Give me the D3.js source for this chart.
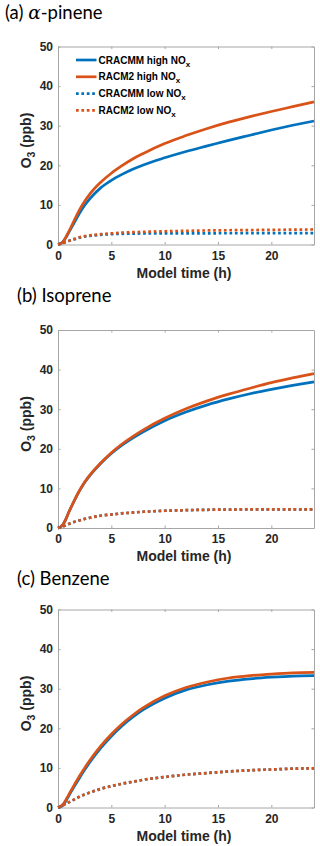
<!DOCTYPE html>
<html>
<head>
<meta charset="utf-8">
<script src="https://cdn.jsdelivr.net/npm/d3@7"></script>
<style>
  body { margin: 0; background: #fff; }
</style>
</head>
<body>
<div id="chart"></div>
<script>
// model time (h) sampled for all curves
const timeH = [0, 0.25, 0.5, 0.75, 1, 1.5, 2, 2.5, 3, 4, 5, 6, 7, 8, 10, 12, 14, 16, 18, 20, 22, 24];

// (a) alpha-pinene
const pinCracmmHigh = [0, 0.2, 0.8, 1.8, 3.0, 5.4, 7.8, 9.9, 11.6, 14.3, 16.2, 17.7, 19.0, 20.1, 21.9, 23.5, 24.9, 26.3, 27.6, 28.9, 30.1, 31.2];
const pinRacm2High  = [0, 0.2, 0.8, 1.9, 3.2, 6.0, 8.7, 10.9, 12.8, 15.7, 18.0, 19.9, 21.6, 23.0, 25.5, 27.5, 29.3, 30.9, 32.3, 33.6, 34.8, 36.0];
const pinCracmmLow  = [0, 0.2, 0.4, 0.65, 0.9, 1.3, 1.7, 2.0, 2.2, 2.45, 2.6, 2.7, 2.75, 2.78, 2.8, 2.82, 2.83, 2.84, 2.85, 2.85, 2.85, 2.85];
const pinRacm2Low   = [0, 0.2, 0.4, 0.65, 0.9, 1.35, 1.8, 2.1, 2.3, 2.6, 2.8, 3.0, 3.1, 3.2, 3.35, 3.45, 3.55, 3.6, 3.65, 3.7, 3.75, 3.8];

// (b) isoprene
const isoCracmmHigh = [0, 0.3, 1.0, 2.3, 3.9, 6.7, 9.3, 11.5, 13.3, 16.3, 18.8, 20.9, 22.7, 24.3, 27.1, 29.3, 31.1, 32.6, 33.9, 35.0, 36.0, 36.9];
const isoRacm2High  = [0, 0.3, 1.0, 2.3, 3.9, 6.8, 9.4, 11.6, 13.4, 16.4, 19.0, 21.2, 23.1, 24.8, 27.7, 30.1, 32.1, 33.8, 35.3, 36.7, 37.9, 39.0];
const isoCracmmLow  = [0, 0.2, 0.4, 0.7, 1.0, 1.5, 1.9, 2.3, 2.6, 3.1, 3.4, 3.7, 3.9, 4.1, 4.35, 4.5, 4.6, 4.65, 4.7, 4.7, 4.7, 4.7];
const isoRacm2Low   = [0, 0.2, 0.4, 0.7, 1.0, 1.5, 1.9, 2.3, 2.6, 3.1, 3.4, 3.7, 3.9, 4.1, 4.35, 4.5, 4.6, 4.65, 4.7, 4.7, 4.7, 4.7];

// (c) benzene
const benCracmmHigh = [0, 0.2, 0.7, 1.7, 2.9, 5.2, 7.4, 9.5, 11.5, 15.0, 18.0, 20.6, 22.8, 24.7, 27.6, 29.7, 31.0, 31.9, 32.5, 32.9, 33.2, 33.3];
const benRacm2High  = [0, 0.3, 0.9, 2.0, 3.2, 5.6, 7.9, 10.0, 12.0, 15.5, 18.5, 21.1, 23.3, 25.2, 28.2, 30.3, 31.7, 32.7, 33.3, 33.7, 34.0, 34.1];
const benCracmmLow  = [0, 0.3, 0.6, 1.0, 1.3, 2.0, 2.7, 3.3, 3.8, 4.7, 5.4, 6.0, 6.5, 7.0, 7.7, 8.3, 8.7, 9.1, 9.4, 9.6, 9.8, 9.9];
const benRacm2Low   = [0, 0.3, 0.6, 1.0, 1.3, 2.0, 2.7, 3.3, 3.8, 4.7, 5.4, 6.0, 6.5, 7.0, 7.7, 8.3, 8.7, 9.1, 9.4, 9.6, 9.8, 9.9];

const xTicks = [0, 5, 10, 15, 20];
const yTicks = [0, 10, 20, 30, 40, 50];
const legendLabels = ["CRACMM high NO", "RACM2 high NO", "CRACMM low NO", "RACM2 low NO"];

const width = 320, height = 846;
const left = 58, right = 314, plotH = 198;
const blue = "#0072BD", orange = "#D95319";
const axisGray = "#a6a6a6", textDark = "#262626";
const sans = "'Liberation Sans', Arial, sans-serif";

const styles = [
  { color: blue, dash: null },
  { color: orange, dash: null },
  { color: blue, dash: "2.7,2.7" },
  { color: orange, dash: "2.7,2.7" }
];

const panels = [
  { label: "(a) ", name: "-pinene", alpha: true, tx: 5, ty: 19, top: 46.5,
    series: [pinCracmmHigh, pinRacm2High, pinCracmmLow, pinRacm2Low], legend: true },
  { label: "(b) ", name: "Isoprene", tx: 17, ty: 302, top: 330,
    series: [isoCracmmHigh, isoRacm2High, isoCracmmLow, isoRacm2Low] },
  { label: "(c) ", name: "Benzene", tx: 17, ty: 584.5, top: 609.5,
    series: [benCracmmHigh, benRacm2High, benCracmmLow, benRacm2Low] }
];

const svg = d3.select("#chart").append("svg")
  .attr("width", width)
  .attr("height", height)
  .style("background", "#fff");

const x = d3.scaleLinear([0, 24], [left, right]);

panels.forEach(p => {
  const y = d3.scaleLinear([0, 50], [p.top + plotH, p.top]);
  const g = svg.append("g");

  // panel title
  const title = g.append("text")
    .attr("x", p.tx).attr("y", p.ty)
    .attr("font-family", "Lato, 'Open Sans', sans-serif")
    .attr("font-size", 18.5)
    .attr("fill", "#000");
  title.append("tspan").text(p.label);
  if (p.alpha) {
    title.append("tspan").text("α")
      .attr("font-family", "'DejaVu Serif', serif")
      .attr("font-style", "italic");
  }
  title.append("tspan").text(p.name);

  // axes (ticks point inward, box on)
  const fmtAxis = a => a.call(s => s.select(".domain").attr("stroke", axisGray))
    .call(s => s.selectAll(".tick line").attr("stroke", axisGray))
    .call(s => s.selectAll(".tick text")
      .attr("fill", textDark)
      .attr("font-family", sans)
      .attr("font-weight", "bold")
      .attr("font-size", 12));

  g.append("g").attr("transform", `translate(0,${p.top + plotH})`)
    .call(d3.axisBottom(x).tickValues(xTicks).tickSizeInner(-2.5).tickSizeOuter(0).tickPadding(6.5))
    .call(fmtAxis);
  g.append("g").attr("transform", `translate(0,${p.top})`)
    .call(d3.axisTop(x).tickValues(xTicks).tickSizeInner(-2.5).tickSizeOuter(0).tickFormat(""))
    .call(fmtAxis);
  g.append("g").attr("transform", `translate(${left},0)`)
    .call(d3.axisLeft(y).tickValues(yTicks).tickSizeInner(-2.5).tickSizeOuter(0).tickPadding(5))
    .call(fmtAxis);
  g.append("g").attr("transform", `translate(${right},0)`)
    .call(d3.axisRight(y).tickValues(yTicks).tickSizeInner(-2.5).tickSizeOuter(0).tickFormat(""))
    .call(fmtAxis);

  // curves
  const line = d3.line()
    .x((d, i) => x(timeH[i]))
    .y(d => y(d))
    .curve(d3.curveMonotoneX);

  p.series.forEach((vals, k) => {
    g.append("path")
      .datum(vals)
      .attr("d", line)
      .attr("fill", "none")
      .attr("stroke", styles[k].color)
      .attr("stroke-width", 2.7)
      .attr("stroke-dasharray", styles[k].dash);
  });

  // axis labels
  g.append("text")
    .attr("x", 184)
    .attr("y", p.top + plotH + 33)
    .attr("text-anchor", "middle")
    .attr("font-family", sans)
    .attr("font-weight", "bold")
    .attr("font-size", 14)
    .attr("fill", textDark)
    .text("Model time (h)");

  const yl = g.append("text")
    .attr("transform", `translate(30.5,${p.top + plotH / 2 - 5}) rotate(-90)`)
    .attr("text-anchor", "middle")
    .attr("font-family", sans)
    .attr("font-weight", "bold")
    .attr("font-size", 14)
    .attr("fill", textDark);
  yl.append("tspan").text("O");
  yl.append("tspan").text("3").attr("font-size", 10.5).attr("dy", 4);
  yl.append("tspan").text(" (ppb)").attr("dy", -4);

  // legend
  if (p.legend) {
    const lg = g.append("g");
    legendLabels.forEach((lab, k) => {
      const ly = 60 + k * 16.8;
      lg.append("line")
        .attr("x1", 76).attr("x2", 96.5)
        .attr("y1", ly).attr("y2", ly)
        .attr("stroke", styles[k].color)
        .attr("stroke-width", 2.7)
        .attr("stroke-dasharray", styles[k].dash);
      const t = lg.append("text")
        .attr("x", 98.5).attr("y", ly + 3.6)
        .attr("font-family", sans)
        .attr("font-weight", "bold")
        .attr("font-size", 10)
        .attr("fill", "#000");
      t.append("tspan").text(lab);
      t.append("tspan").text("x").attr("font-size", 8).attr("dy", 3);
    });
  }
});
</script>
</body>
</html>
